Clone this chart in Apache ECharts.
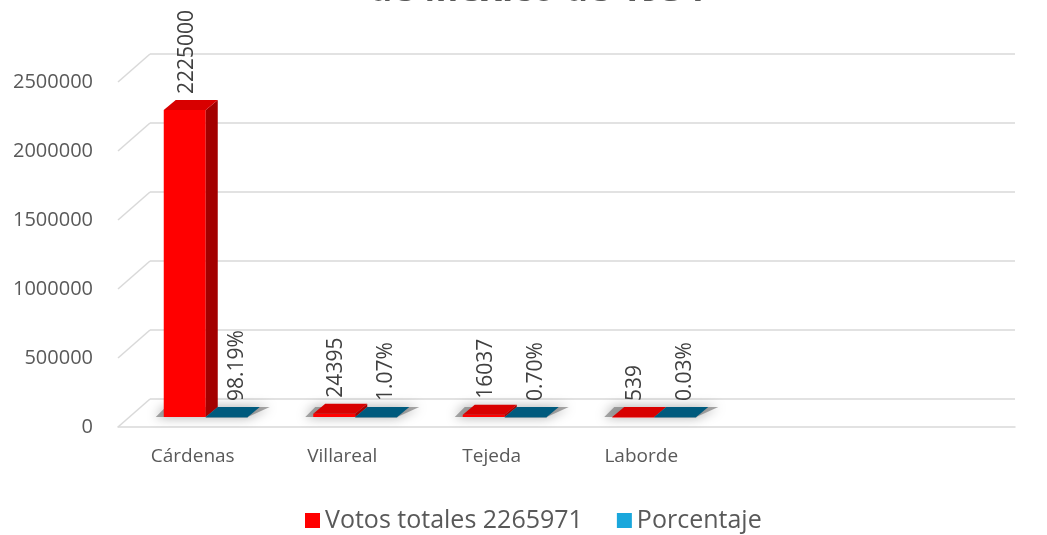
<!DOCTYPE html>
<html>
<head>
<meta charset="utf-8">
<script src="https://cdn.jsdelivr.net/npm/echarts@6/dist/echarts.min.js"></script>
<style>
html,body{margin:0;padding:0;background:#fff;}
#chart{width:1047px;height:535px;}
</style>
</head>
<body>
<div id="chart"></div>
<script>
const titleText = 'de México de 1934';
const categories = ['Cárdenas', 'Villareal', 'Tejeda', 'Laborde', '', ''];
const votos = [2225000, 24395, 16037, 539];
const porcentaje = [98.19, 1.07, 0.70, 0.03];
const yTicks = [0, 500000, 1000000, 1500000, 2000000, 2500000];
const seriesNames = ['Votos totales 2265971', 'Porcentaje'];

const FONT = 'Open Sans';
const TXT = '#595959';
const GRID = '#d9d9d9';
const DX = 12, DY = -10, BW = 42;

function bar3d(slot, colors, fmt, withShadow, labelDx) {
  return function (params, api) {
    const i = api.value(0), v = api.value(1);
    const base = api.coord([i, 0]);
    const tp = api.coord([i, v]);
    const cx = base[0] + slot * BW;
    const x0 = cx - BW / 2, x1 = cx + BW / 2;
    const yb = base[1], yt = tp[1];
    const children = [];
    if (withShadow) {
      children.push({
        type: 'polygon',
        shape: { points: [[x0 - 8, yb], [x1 + BW, yb], [x1 + BW + DX + 10, yb + DY], [x0 + DX - 10, yb + DY]] },
        style: { fill: 'rgba(110,110,110,0.6)', shadowBlur: 12, shadowColor: 'rgba(0,0,0,0.6)' }
      });
    }
    children.push({
      type: 'rect',
      shape: { x: x0, y: yt, width: BW, height: Math.max(yb - yt, 0.5) },
      style: { fill: colors.front }
    });
    children.push({
      type: 'polygon',
      shape: { points: [[x1, yt], [x1 + DX, yt + DY], [x1 + DX, yb + DY], [x1, yb]] },
      style: { fill: colors.side }
    });
    children.push({
      type: 'polygon',
      shape: { points: [[x0, yt], [x1, yt], [x1 + DX, yt + DY], [x0 + DX, yt + DY]] },
      style: { fill: colors.top }
    });
    children.push({
      type: 'text',
      x: cx + labelDx,
      y: yt + DY - 6,
      rotation: Math.PI / 2,
      style: {
        text: fmt(v),
        fill: '#404040',
        font: '21px "' + FONT + '"',
        align: 'left',
        verticalAlign: 'middle'
      }
    });
    return { type: 'group', children: children };
  };
}

const chart = echarts.init(document.getElementById('chart'), null, { renderer: 'canvas' });

const option = {
  animation: false,
  backgroundColor: '#ffffff',
  title: {
    text: titleText,
    left: 364,
    top: -33,
    textStyle: { fontSize: 37, fontWeight: 'bold', color: TXT, fontFamily: FONT }
  },
  legend: {
    left: 300,
    top: 503,
    itemWidth: 15,
    itemHeight: 15,
    itemGap: 34,
    icon: 'rect',
    textStyle: { fontSize: 25, color: TXT, fontFamily: FONT },
    data: seriesNames
  },
  grid: [
    { left: 150, right: 32, top: 54, height: 345 },   // back wall gridlines
    { left: 118, right: 32, top: 82, height: 345 },   // labels + floor front line
    { left: 110, right: 40, top: 72, height: 345 }    // bars
  ],
  xAxis: [
    { gridIndex: 0, type: 'category', data: categories, show: false },
    {
      gridIndex: 1, type: 'category', data: categories,
      axisLine: { show: true, lineStyle: { color: GRID, width: 1.5 } },
      axisTick: { show: false },
      axisLabel: { color: TXT, fontSize: 19, fontFamily: FONT, margin: 20 }
    },
    { gridIndex: 2, type: 'category', data: categories, show: false }
  ],
  yAxis: [
    {
      gridIndex: 0, type: 'value', min: 0, max: 2500000, interval: 500000,
      axisLine: { show: false }, axisTick: { show: false }, axisLabel: { show: false },
      splitLine: { show: true, lineStyle: { color: GRID, width: 1.5 } }
    },
    {
      gridIndex: 1, type: 'value', min: 0, max: 2500000, interval: 500000,
      axisLine: { show: false }, axisTick: { show: false },
      splitLine: { show: false },
      axisLabel: { color: TXT, fontSize: 20, fontFamily: FONT, margin: 25, formatter: v => String(v) }
    },
    {
      gridIndex: 2, type: 'value', min: 0, max: 2500000, interval: 500000,
      show: false, splitLine: { show: false }
    }
  ],
  series: [
    {
      type: 'custom',
      name: 'walls',
      xAxisIndex: 1, yAxisIndex: 1,
      silent: true,
      data: yTicks.map(v => [0, v]),
      encode: { x: 0, y: 1 },
      renderItem: function (params, api) {
        const p = api.coord([0, api.value(1)]);
        const x = params.coordSys.x;
        return {
          type: 'line',
          shape: { x1: x, y1: p[1], x2: x + 32, y2: p[1] - 28 },
          style: { stroke: GRID, lineWidth: 1.5 }
        };
      }
    },
    {
      type: 'custom',
      name: seriesNames[0],
      xAxisIndex: 2, yAxisIndex: 2,
      itemStyle: { color: '#ff0000' },
      data: votos.map((v, i) => [i, v]),
      encode: { x: 0, y: 1 },
      renderItem: bar3d(0, { front: '#ff0000', side: '#a30000', top: '#d80000' }, v => String(v), true, 2)
    },
    {
      type: 'custom',
      name: seriesNames[1],
      xAxisIndex: 2, yAxisIndex: 2,
      itemStyle: { color: '#1aa7dc' },
      data: porcentaje.map((v, i) => [i, v]),
      encode: { x: 0, y: 1 },
      renderItem: bar3d(1, { front: '#004f6e', side: '#003d55', top: '#005a7d' }, v => v.toFixed(2) + '%', false, 10)
    }
  ]
};
chart.setOption(option);
</script>
</body>
</html>
